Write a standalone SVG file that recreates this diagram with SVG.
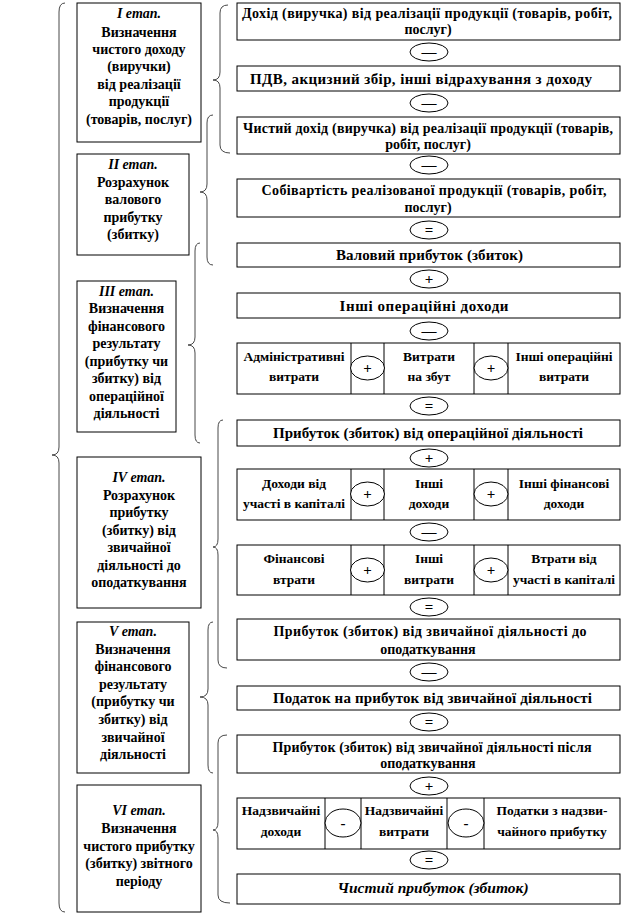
<svg xmlns="http://www.w3.org/2000/svg" width="623" height="915" viewBox="0 0 623 915">
<style>
.bx{fill:#fff;stroke:#000;stroke-width:1}
.dv{stroke:#000;stroke-width:1}
.t{font-family:"Liberation Serif","Times New Roman",serif;font-weight:bold;font-size:13.5px;text-anchor:middle;fill:#000}
.s{font-size:14px}
.l{font-size:15px}
.it{font-style:italic}
.op{fill:#fff;stroke:#000;stroke-width:1}
.sy{font-family:"Liberation Serif","Times New Roman",serif;font-weight:bold;font-size:15px;text-anchor:middle;fill:#000}
.br{fill:none;stroke:#333;stroke-width:0.9}
</style>
<rect width="623" height="915" fill="#fff"/>

<g id="connectors">
<path class="br" d="M65 3 Q59 3 59 12 L59 447 Q59 455 52 455 Q59 455 59 463 L59 903 Q59 912 65 912"/>
<path class="br" d="M228 5 Q220 5 220 13 L220 72 Q220 80 213 80 Q220 80 220 88 L220 145 Q220 153 230 153"/>
<path class="br" d="M213 115 Q207 115 207 123 L207 184 Q207 192 200 192 Q207 192 207 200 L207 257 Q207 265 213 265"/>
<path class="br" d="M200 243 Q195 243 195 251 L195 337 Q195 345 188 345 Q195 345 195 353 L195 435 Q195 443 200 443"/>
<path class="br" d="M223 420 Q218 420 218 428 L218 539 Q218 547 213 547 Q218 547 218 555 L218 660 Q218 668 227 668"/>
<path class="br" d="M213 622 Q208 622 208 630 L208 689 Q208 697 200 697 Q208 697 208 705 L208 765 Q208 773 213 773"/>
<path class="br" d="M227 735 Q218 735 218 743 L218 822 Q218 830 213 830 Q218 830 218 838 L218 895 Q218 903 230 903"/>
</g>

<g id="stage1">
<rect class="bx" x="77" y="3" width="124" height="139"/>
<text class="t s it" x="139" y="18">I етап.</text>
<text class="t s" x="139" y="37">Визначення</text>
<text class="t s" x="139" y="54">чистого  доходу</text>
<text class="t s" x="139" y="71">(виручки)</text>
<text class="t s" x="139" y="89">від реалізації</text>
<text class="t s" x="139" y="106">продукції</text>
<text class="t s" x="139" y="124">(товарів,  послуг)</text>
</g>
<g id="stage2">
<rect class="bx" x="77" y="154" width="112" height="101"/>
<text class="t s it" x="133" y="169">II етап.</text>
<text class="t s" x="133" y="187">Розрахунок</text>
<text class="t s" x="133" y="204">валового</text>
<text class="t s" x="133" y="222">прибутку</text>
<text class="t s" x="133" y="239">(збитку)</text>
</g>
<g id="stage3">
<rect class="bx" x="77" y="281" width="99" height="151"/>
<text class="t s it" x="126.5" y="296">III етап.</text>
<text class="t s" x="126.5" y="313">Визначення</text>
<text class="t s" x="126.5" y="331">фінансового</text>
<text class="t s" x="126.5" y="348">результату</text>
<text class="t s" x="126.5" y="366">(прибутку  чи</text>
<text class="t s" x="126.5" y="383">збитку) від</text>
<text class="t s" x="126.5" y="401">операційної</text>
<text class="t s" x="126.5" y="418">діяльності</text>
</g>
<g id="stage4">
<rect class="bx" x="77" y="457" width="124" height="151"/>
<text class="t s it" x="139" y="482">IV етап.</text>
<text class="t s" x="139" y="500">Розрахунок</text>
<text class="t s" x="139" y="517">прибутку</text>
<text class="t s" x="139" y="535">(збитку) від</text>
<text class="t s" x="139" y="552">звичайної</text>
<text class="t s" x="139" y="570">діяльності  до</text>
<text class="t s" x="139" y="587">оподаткування</text>
</g>
<g id="stage5">
<rect class="bx" x="77" y="622" width="112" height="151"/>
<text class="t s it" x="133" y="636">V етап.</text>
<text class="t s" x="133" y="654">Визначення</text>
<text class="t s" x="133" y="671">фінансового</text>
<text class="t s" x="133" y="689">результату</text>
<text class="t s" x="133" y="706">(прибутку  чи</text>
<text class="t s" x="133" y="724">збитку) від</text>
<text class="t s" x="133" y="742">звичайної</text>
<text class="t s" x="133" y="759">діяльності</text>
</g>
<g id="stage6">
<rect class="bx" x="77" y="785" width="124" height="127"/>
<text class="t s it" x="139" y="815">VI етап.</text>
<text class="t s" x="139" y="833">Визначення</text>
<text class="t s" x="139" y="851">чистого прибутку</text>
<text class="t s" x="139" y="868">(збитку) звітного</text>
<text class="t s" x="139" y="886">періоду</text>
</g>

<g id="box1">
<rect class="bx" x="237" y="3" width="383" height="37"/>
<text class="t s" x="427" y="18" textLength="370" lengthAdjust="spacing">Дохід (виручка) від реалізації продукції (товарів, робіт,</text>
<text class="t s" x="428" y="34">послуг)</text>
</g>
<g id="op1"><ellipse class="op" cx="429" cy="52" rx="19" ry="9"/><text class="sy" x="429" y="57">—</text></g>
<g id="box2">
<rect class="bx" x="237" y="66" width="383" height="25"/>
<text class="t l" x="421" y="84" textLength="342" lengthAdjust="spacing">ПДВ, акцизний збір, інші відрахування з доходу</text>
</g>
<g id="op2"><ellipse class="op" cx="429" cy="103" rx="19" ry="9"/><text class="sy" x="429" y="108">—</text></g>
<g id="box3">
<rect class="bx" x="237" y="117" width="383" height="37"/>
<text class="t s" x="428" y="133" textLength="370" lengthAdjust="spacing">Чистий дохід (виручка) від реалізації продукції (товарів,</text>
<text class="t s" x="428" y="149">робіт,  послуг)</text>
</g>
<g id="op3"><ellipse class="op" cx="429" cy="165" rx="19" ry="9"/><text class="sy" x="429" y="170">—</text></g>
<g id="box4">
<rect class="bx" x="237" y="179" width="383" height="38"/>
<text class="t s" x="434" y="195" textLength="345" lengthAdjust="spacing">Собівартість реалізованої продукції (товарів, робіт,</text>
<text class="t s" x="428" y="212">послуг)</text>
</g>
<g id="op4"><ellipse class="op" cx="429" cy="230" rx="19" ry="9"/><text class="sy" x="429" y="235">=</text></g>
<g id="box5">
<rect class="bx" x="237" y="243" width="383" height="24"/>
<text class="t l" x="429.5" y="260" textLength="187" lengthAdjust="spacing">Валовий прибуток (збиток)</text>
</g>
<g id="op5"><ellipse class="op" cx="429" cy="279" rx="19" ry="9"/><text class="sy" x="429" y="284">+</text></g>
<g id="box6">
<rect class="bx" x="237" y="293" width="383" height="25"/>
<text class="t l" x="424" y="311" textLength="169" lengthAdjust="spacing">Інші операційні доходи</text>
</g>
<g id="op6"><ellipse class="op" cx="429" cy="331" rx="19" ry="9"/><text class="sy" x="429" y="336">—</text></g>
<g id="row7">
<rect class="bx" x="237" y="343" width="383" height="51"/>
<line class="dv" x1="351" y1="343" x2="351" y2="394"/>
<line class="dv" x1="384" y1="343" x2="384" y2="394"/>
<line class="dv" x1="474" y1="343" x2="474" y2="394"/>
<line class="dv" x1="508" y1="343" x2="508" y2="394"/>
<text class="t" x="294" y="361">Адміністративні</text>
<text class="t" x="294" y="381">витрати</text>
<ellipse class="op" cx="367.5" cy="368" rx="17" ry="12"/><text class="sy" x="367.5" y="373">+</text>
<text class="t" x="429" y="361">Витрати</text>
<text class="t" x="429" y="381">на збут</text>
<ellipse class="op" cx="491" cy="368" rx="17" ry="12"/><text class="sy" x="491" y="373">+</text>
<text class="t" x="564" y="361">Інші  операційні</text>
<text class="t" x="564" y="381">витрати</text>
</g>
<g id="op7"><ellipse class="op" cx="429" cy="406" rx="19" ry="9"/><text class="sy" x="429" y="411">=</text></g>
<g id="box8">
<rect class="bx" x="237" y="420" width="383" height="26"/>
<text class="t l" x="428" y="438" textLength="310" lengthAdjust="spacing">Прибуток (збиток) від операційної діяльності</text>
</g>
<g id="op8"><ellipse class="op" cx="429" cy="458" rx="19" ry="9"/><text class="sy" x="429" y="463">+</text></g>
<g id="row9">
<rect class="bx" x="237" y="469" width="383" height="51"/>
<line class="dv" x1="351" y1="469" x2="351" y2="520"/>
<line class="dv" x1="384" y1="469" x2="384" y2="520"/>
<line class="dv" x1="474" y1="469" x2="474" y2="520"/>
<line class="dv" x1="508" y1="469" x2="508" y2="520"/>
<text class="t" x="294" y="488">Доходи  від</text>
<text class="t" x="294" y="508">участі в капіталі</text>
<ellipse class="op" cx="367.5" cy="494" rx="17" ry="12"/><text class="sy" x="367.5" y="499">+</text>
<text class="t" x="429" y="488">Інші</text>
<text class="t" x="429" y="508">доходи</text>
<ellipse class="op" cx="491" cy="494" rx="17" ry="12"/><text class="sy" x="491" y="499">+</text>
<text class="t" x="564" y="488">Інші  фінансові</text>
<text class="t" x="564" y="508">доходи</text>
</g>
<g id="op9"><ellipse class="op" cx="429" cy="532" rx="19" ry="9"/><text class="sy" x="429" y="537">—</text></g>
<g id="row10">
<rect class="bx" x="237" y="545" width="383" height="50"/>
<line class="dv" x1="351" y1="545" x2="351" y2="595"/>
<line class="dv" x1="384" y1="545" x2="384" y2="595"/>
<line class="dv" x1="474" y1="545" x2="474" y2="595"/>
<line class="dv" x1="508" y1="545" x2="508" y2="595"/>
<text class="t" x="294" y="563">Фінансові</text>
<text class="t" x="294" y="584">втрати</text>
<ellipse class="op" cx="367.5" cy="570" rx="17" ry="12"/><text class="sy" x="367.5" y="575">+</text>
<text class="t" x="429" y="563">Інші</text>
<text class="t" x="429" y="584">витрати</text>
<ellipse class="op" cx="491" cy="570" rx="17" ry="12"/><text class="sy" x="491" y="575">+</text>
<text class="t" x="564" y="563">Втрати від</text>
<text class="t" x="564" y="584">участі в капіталі</text>
</g>
<g id="op10"><ellipse class="op" cx="429" cy="607" rx="19" ry="9"/><text class="sy" x="429" y="612">=</text></g>
<g id="box11">
<rect class="bx" x="237" y="619" width="383" height="41"/>
<text class="t s" x="430" y="636" textLength="313" lengthAdjust="spacing">Прибуток (збиток) від звичайної діяльності до</text>
<text class="t s" x="428" y="654">оподаткування</text>
</g>
<g id="op11"><ellipse class="op" cx="429" cy="672" rx="19" ry="9"/><text class="sy" x="429" y="677">—</text></g>
<g id="box12">
<rect class="bx" x="237" y="686" width="383" height="24"/>
<text class="t l" x="432.5" y="703" textLength="319" lengthAdjust="spacing">Податок на прибуток від звичайної діяльності</text>
</g>
<g id="op12"><ellipse class="op" cx="429" cy="722" rx="19" ry="9"/><text class="sy" x="429" y="727">=</text></g>
<g id="box13">
<rect class="bx" x="237" y="735" width="383" height="38"/>
<text class="t s" x="432" y="752" textLength="319" lengthAdjust="spacing">Прибуток (збиток) від звичайної діяльності після</text>
<text class="t s" x="428" y="768">оподаткування</text>
</g>
<g id="op13"><ellipse class="op" cx="429" cy="786" rx="19" ry="9"/><text class="sy" x="429" y="791">+</text></g>
<g id="row14">
<rect class="bx" x="237" y="798" width="383" height="51"/>
<line class="dv" x1="325" y1="798" x2="325" y2="849"/>
<line class="dv" x1="361" y1="798" x2="361" y2="849"/>
<line class="dv" x1="447" y1="798" x2="447" y2="849"/>
<line class="dv" x1="484" y1="798" x2="484" y2="849"/>
<text class="t" x="281" y="815">Надзвичайні</text>
<text class="t" x="281" y="836">доходи</text>
<ellipse class="op" cx="343" cy="823" rx="18" ry="14"/><text class="sy" x="343" y="828">-</text>
<text class="t" x="404" y="815">Надзвичайні</text>
<text class="t" x="404" y="836">витрати</text>
<ellipse class="op" cx="466" cy="823" rx="18" ry="14"/><text class="sy" x="466" y="828">-</text>
<text class="t" x="552" y="815">Податки  з надзви-</text>
<text class="t" x="552" y="836">чайного  прибутку</text>
</g>
<g id="op14"><ellipse class="op" cx="429" cy="860" rx="19" ry="9"/><text class="sy" x="429" y="865">=</text></g>
<g id="box15">
<rect class="bx" x="237" y="874" width="383" height="30"/>
<text class="t it" x="433" y="893" style="font-size:15.5px">Чистий прибуток (збиток)</text>
</g>
</svg>
